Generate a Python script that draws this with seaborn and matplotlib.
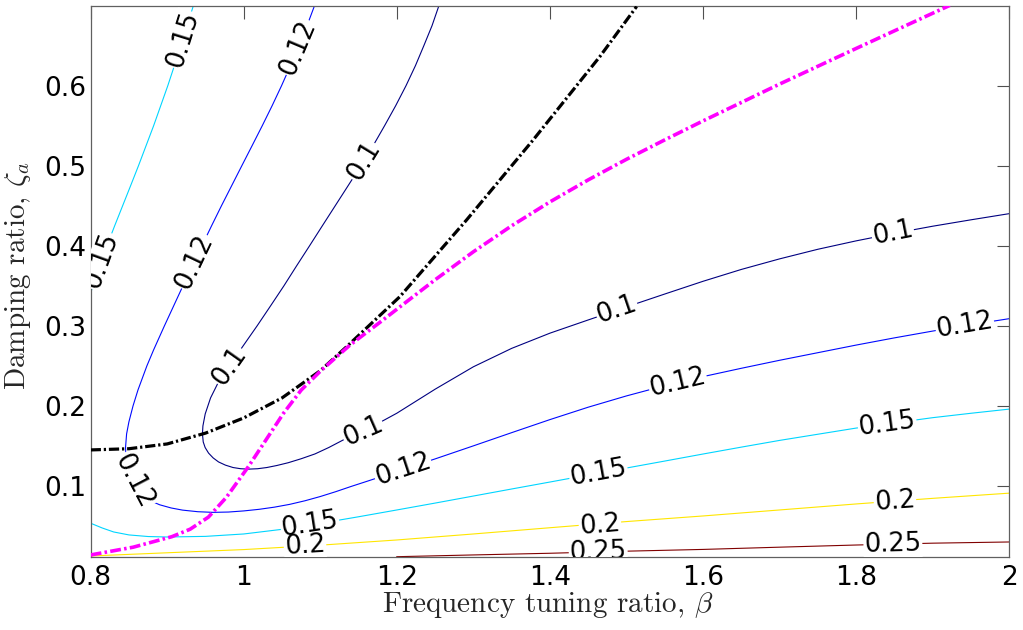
import numpy as np
import matplotlib
matplotlib.use("Agg")
import matplotlib.pyplot as plt
import seaborn as sns

# ---------------- data ----------------
levels = [0.1, 0.12, 0.15, 0.2, 0.25]
level_text = ["0.1", "0.12", "0.15", "0.2", "0.25"]

# contour 0.1 (single curve with a nose)
c010_x = [1.2549, 1.2459, 1.2352, 1.2242, 1.2119, 1.1984, 1.1839, 1.1689, 1.1529, 1.1362,
          1.1194, 1.1026, 1.0859, 1.069, 1.0524, 1.035, 1.0174, 0.9955, 0.9807, 0.967,
          0.9566, 0.9496, 0.9466, 0.946, 0.947, 0.9495, 0.954, 0.960, 0.967, 0.976, 0.986,
          0.996, 1.006, 1.018, 1.03, 1.043, 1.058, 1.075, 1.093, 1.111, 1.13, 1.16, 1.2,
          1.25, 1.3, 1.35, 1.4, 1.45, 1.5, 1.55, 1.6, 1.65, 1.7, 1.75, 1.8, 1.85, 1.9,
          1.95, 2.0]
c010_y = [0.70, 0.675, 0.65, 0.625, 0.60, 0.575, 0.55, 0.525, 0.50, 0.475, 0.45, 0.425,
          0.40, 0.375, 0.35, 0.325, 0.30, 0.27, 0.25, 0.23, 0.21, 0.19, 0.175, 0.165,
          0.155, 0.148, 0.141, 0.135, 0.130, 0.126, 0.123, 0.1215, 0.121, 0.1215, 0.123,
          0.1255, 0.129, 0.134, 0.140, 0.148, 0.1575, 0.1701, 0.1909, 0.2209, 0.2489,
          0.2719, 0.2909, 0.3074, 0.3237, 0.3398, 0.3557, 0.3705, 0.3837, 0.3957, 0.4062,
          0.4157, 0.4245, 0.4325, 0.4402]

# contour 0.12 (single curve)
c012_x = [1.0924, 1.0826, 1.0719, 1.0609, 1.0493, 1.037, 1.0241, 1.0108, 0.9974, 0.9841,
          0.9708, 0.9579, 0.9453, 0.9329, 0.9205, 0.9084, 0.8963, 0.8822, 0.8734, 0.8618,
          0.8553, 0.8499, 0.8469, 0.8455, 0.8462, 0.849, 0.854, 0.860, 0.868, 0.878, 0.890,
          0.905, 0.92, 0.94, 0.96, 0.98, 1.0, 1.02, 1.04, 1.06, 1.08, 1.1, 1.12, 1.14, 1.16,
          1.18, 1.2, 1.25, 1.3, 1.35, 1.4, 1.45, 1.5, 1.55, 1.6, 1.65, 1.7, 1.75, 1.8, 1.85,
          1.9, 1.95, 2.0]
c012_y = [0.70, 0.675, 0.65, 0.625, 0.60, 0.575, 0.55, 0.525, 0.50, 0.475, 0.45, 0.425,
          0.40, 0.375, 0.35, 0.325, 0.30, 0.27, 0.25, 0.22, 0.20, 0.18, 0.165, 0.148, 0.135,
          0.122, 0.110, 0.099, 0.089, 0.0815, 0.0765, 0.0725, 0.0698, 0.0678, 0.067, 0.0674,
          0.0688, 0.0708, 0.0735, 0.077, 0.0815, 0.0868, 0.0928, 0.0993, 0.1055, 0.1118,
          0.118, 0.1338, 0.1501, 0.1666, 0.1829, 0.1984, 0.2125, 0.2253, 0.2366, 0.247,
          0.257, 0.2665, 0.276, 0.285, 0.2935, 0.3015, 0.309]

# contour 0.15 (two curves)
c015a_x = [0.9341, 0.9179, 0.9007, 0.8822, 0.8624, 0.8521, 0.8417, 0.8313, 0.8212, 0.8117,
           0.803, 0.8013, 0.8]
c015a_y = [0.70, 0.65, 0.60, 0.55, 0.50, 0.475, 0.45, 0.425, 0.40, 0.375, 0.35, 0.345, 0.341]
c015b_x = [0.8, 0.815, 0.83, 0.85, 0.875, 0.9, 0.95, 1.0, 1.05, 1.1, 1.15, 1.2, 1.25, 1.3,
           1.35, 1.4, 1.45, 1.5, 1.55, 1.6, 1.65, 1.7, 1.75, 1.8, 1.85, 1.9, 1.95, 2.0]
c015b_y = [0.0534, 0.0475, 0.0425, 0.0388, 0.0368, 0.0362, 0.037, 0.040, 0.0458, 0.0533,
           0.0615, 0.070, 0.0786, 0.0874, 0.0962, 0.1049, 0.1137, 0.1224, 0.1311, 0.1399,
           0.1485, 0.1569, 0.1646, 0.1723, 0.1788, 0.1853, 0.1908, 0.196]

# contour 0.2
c020_x = [0.8, 0.9, 1.0, 1.1, 1.2, 1.3, 1.4, 1.5, 1.6, 1.7, 1.8, 1.9, 2.0]
c020_y = [0.0125, 0.0165, 0.0205, 0.026, 0.0325, 0.040, 0.0478, 0.0555, 0.0625, 0.070,
          0.0775, 0.0845, 0.091]

# contour 0.25
c025_x = [1.1997, 1.3, 1.4, 1.5, 1.6, 1.7, 1.8, 1.9, 2.0]
c025_y = [0.0116, 0.0138, 0.0159, 0.0185, 0.0207, 0.0235, 0.0262, 0.0285, 0.030]

# label positions (on the curves)
lab010_x = [1.1565, 0.9807, 1.156, 1.4875, 1.848]
lab010_y = [0.5056, 0.250, 0.1684, 0.3196, 0.4153]
lab012_x = [1.0708, 0.9354, 0.856, 1.208, 1.567, 1.942]
lab012_y = [0.6475, 0.380, 0.106, 0.1205, 0.2292, 0.3002]
lab015_x = [0.9204, 0.814, 1.0865, 1.4633, 1.8405]
lab015_y = [0.6575, 0.381, 0.0513, 0.116, 0.1776]
lab020_x = [1.08, 1.4654, 1.8507]
lab020_y = [0.0249, 0.0508, 0.0811]
lab025_x = [1.463, 1.848]
lab025_y = [0.0175, 0.0273]

# black dash-dot curve
blk_x = [0.8, 0.85, 0.9, 0.95, 1.0, 1.05, 1.1, 1.1344, 1.204, 1.2912, 1.3782, 1.4653, 1.5132]
blk_y = [0.145, 0.1465, 0.1525, 0.166, 0.185, 0.210, 0.244, 0.274, 0.3366, 0.4325, 0.5325,
         0.6366, 0.699]

# magenta dash-dot curve
mag_x = [0.8, 0.8556, 0.906, 0.93, 0.9537, 0.977, 1.0059, 1.03, 1.052, 1.075, 1.0996,
         1.1387, 1.18, 1.2214, 1.25, 1.3, 1.35, 1.4, 1.45, 1.5, 1.55, 1.6, 1.7, 1.8, 1.9,
         1.9223]
mag_y = [0.0138, 0.0235, 0.0366, 0.046, 0.061, 0.0855, 0.124, 0.159, 0.191, 0.2198, 0.243,
         0.276, 0.306, 0.3366, 0.3576, 0.3926, 0.4251, 0.4549, 0.4824, 0.5081, 0.5324,
         0.5561, 0.6021, 0.6466, 0.6906, 0.7004]

xticks = [0.8, 1.0, 1.2, 1.4, 1.6, 1.8, 2.0]
xtick_labels = ["0.8", "1", "1.2", "1.4", "1.6", "1.8", "2"]
yticks = [0.1, 0.2, 0.3, 0.4, 0.5, 0.6]
ytick_labels = ["0.1", "0.2", "0.3", "0.4", "0.5", "0.6"]

# ---------------- style ----------------
sns.set_style("white")
plt.rcParams["font.family"] = ["DejaVu Sans"]
plt.rcParams["mathtext.fontset"] = "cm"

fig = plt.figure(figsize=(10.23, 6.30), dpi=100)
ax = fig.add_axes([0.08866, 0.11635, 0.8979, 0.8746])
ax.set_xlim(0.8, 2.0)
ax.set_ylim(0.0116, 0.7)

cmap = plt.get_cmap("jet")
norm = plt.Normalize(min(levels), max(levels))

curves = {
    0.1: [(c010_x, c010_y)],
    0.12: [(c012_x, c012_y)],
    0.15: [(c015a_x, c015a_y), (c015b_x, c015b_y)],
    0.2: [(c020_x, c020_y)],
    0.25: [(c025_x, c025_y)],
}
labels = {
    0.1: (lab010_x, lab010_y),
    0.12: (lab012_x, lab012_y),
    0.15: (lab015_x, lab015_y),
    0.2: (lab020_x, lab020_y),
    0.25: (lab025_x, lab025_y),
}

for lev in levels:
    col = cmap(norm(lev))
    for xs, ys in curves[lev]:
        sns.lineplot(x=xs, y=ys, sort=False, estimator=None, color=col, lw=0.8,
                     ax=ax, zorder=2, legend=False)

sns.lineplot(x=blk_x, y=blk_y, sort=False, estimator=None, color="black", lw=2.3,
             linestyle=(0, (3.2, 0.9, 0.7, 0.9)), ax=ax, zorder=4, legend=False)
sns.lineplot(x=mag_x, y=mag_y, sort=False, estimator=None, color="#ff00ff", lw=2.6,
             linestyle=(0, (3.0, 0.9, 0.7, 0.9)), ax=ax, zorder=4, legend=False)


def label_angle(xs, ys, lx, ly):
    P = ax.transData.transform(np.column_stack([xs, ys]))
    L = ax.transData.transform((lx, ly))
    best, ang = 1e18, 0.0
    for i in range(len(P) - 1):
        a, b = P[i], P[i + 1]
        ab = b - a
        t = np.clip(np.dot(L - a, ab) / max(np.dot(ab, ab), 1e-12), 0, 1)
        d = np.linalg.norm(a + t * ab - L)
        if d < best:
            best = d
            ang = np.degrees(np.arctan2(ab[1], ab[0]))
    while ang > 90:
        ang -= 180
    while ang <= -90:
        ang += 180
    return ang


for k, lev in enumerate(levels):
    lxs, lys = labels[lev]
    for lx, ly in zip(lxs, lys):
        best_curve = min(curves[lev], key=lambda c: np.min(np.hypot(np.array(c[0]) - lx, (np.array(c[1]) - ly) * 1.7)))
        ang = label_angle(best_curve[0], best_curve[1], lx, ly)
        ax.text(lx, ly, level_text[k], rotation=ang, rotation_mode="anchor", ha="center",
                va="center", fontsize=18.5, color="white", clip_on=True, zorder=3,
                bbox=dict(facecolor="white", edgecolor="none", pad=0.6))
        ax.text(lx, ly, level_text[k], rotation=ang, rotation_mode="anchor", ha="center",
                va="center", fontsize=18.5, color="black", clip_on=True, zorder=6)

ax.set_xticks(xticks)
ax.set_xticklabels(xtick_labels)
ax.set_yticks(yticks)
ax.set_yticklabels(ytick_labels)
ax.tick_params(direction="in", length=9, width=0.8, color="#505050", top=True, right=True,
               labelsize=19, labelcolor="black")
ax.tick_params(axis="x", pad=6)
ax.tick_params(axis="y", pad=3)
for s in ax.spines.values():
    s.set_color("#606060")
    s.set_linewidth(0.9)

ax.set_xlabel(r"Frequency tuning ratio, $\beta$", fontsize=21, fontfamily="cmr10")
ax.set_ylabel(r"Damping ratio, $\zeta_a$", fontsize=21, fontfamily="cmr10")
ax.xaxis.label.set_verticalalignment("baseline")
ax.yaxis.label.set_verticalalignment("baseline")
ax.xaxis.set_label_coords(0.497, -0.0995)
ax.yaxis.set_label_coords(-0.0715, 0.51)

fig.savefig("out.png", dpi=100)
